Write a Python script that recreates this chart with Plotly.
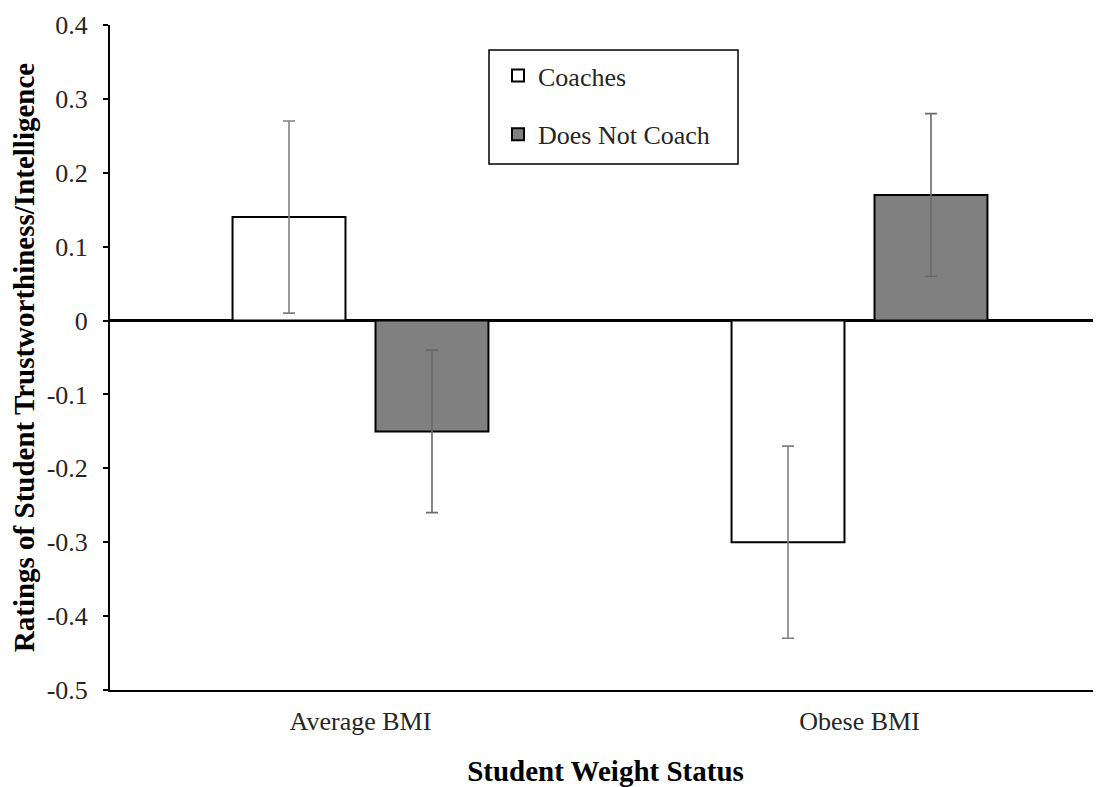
import plotly.graph_objects as go

categories = ["Average BMI", "Obese BMI"]
cat_pos = [0, 1]
coaches = [0.14, -0.30]
coaches_err = [0.13, 0.13]
not_coach = [-0.15, 0.17]
not_coach_err = [0.11, 0.11]
y_ticks = [0.4, 0.3, 0.2, 0.1, 0, -0.1, -0.2, -0.3, -0.4, -0.5]
y_ticktext = ["0.4", "0.3", "0.2", "0.1", "0", "-0.1", "-0.2", "-0.3", "-0.4", "-0.5"]

FONT = "Liberation Serif"
TXT = "#262626"

fig = go.Figure()
fig.add_trace(go.Bar(
    x=cat_pos, y=coaches, name="Coaches", legendgroup="a",
    marker=dict(color="white", line=dict(color="black", width=2)),
    error_y=dict(type="data", array=coaches_err, visible=True,
                 color="#808080", thickness=1.6, width=6),
))
fig.add_trace(go.Bar(
    x=cat_pos, y=not_coach, name="Does Not Coach", legendgroup="b",
    marker=dict(color="#808080", line=dict(color="black", width=2)),
    error_y=dict(type="data", array=not_coach_err, visible=True,
                 color="#6a6a6a", thickness=1.6, width=6),
))

# legend frame (page px 489..738 x 50..164; plot area 110..1101 x 25..690)
fig.add_shape(type="rect", xref="paper", yref="paper",
              x0=(489 - 110) / 991, x1=(738 - 110) / 991,
              y0=(690 - 164) / 665, y1=(690 - 50) / 665,
              line=dict(color="black", width=1.5), fillcolor="rgba(0,0,0,0)",
              layer="above")

fig.update_layout(
    width=1093, height=779,
    margin=dict(l=102, r=0, t=17, b=97),
    paper_bgcolor="white", plot_bgcolor="white",
    barmode="group", bargap=0.427, bargroupgap=0.21,
    font=dict(family=FONT, size=26, color=TXT),
    showlegend=True,
    legend=dict(
        x=(498 - 110) / 991, y=(690 - 52) / 665, xanchor="left", yanchor="top",
        borderwidth=0,
        font=dict(family=FONT, size=26, color=TXT),
        traceorder="grouped", tracegroupgap=22,
        bgcolor="rgba(0,0,0,0)",
    ),
    xaxis=dict(
        range=[-0.502, 1.484], tickvals=cat_pos, ticktext=categories,
        showline=True, linecolor="black", linewidth=2,
        ticks="", showgrid=False, zeroline=False,
        tickfont=dict(family=FONT, size=26, color=TXT),
        ticklabelstandoff=7,
        title=dict(text="<b>Student Weight Status</b>",
                   font=dict(family=FONT, size=29, color="black"), standoff=25),
    ),
    yaxis=dict(
        range=[-0.5, 0.4], tickvals=y_ticks, ticktext=y_ticktext,
        showline=True, linecolor="black", linewidth=2,
        ticks="outside", ticklen=5, tickcolor="black", tickwidth=1.5,
        showgrid=False,
        zeroline=True, zerolinecolor="black", zerolinewidth=3,
        tickfont=dict(family=FONT, size=26, color=TXT),
        ticklabelstandoff=10,
        title=dict(text="<b>Ratings of Student Trustworthiness/Intelligence</b>",
                   font=dict(family=FONT, size=29, color="black"), standoff=8),
    ),
)

fig.write_html("out.html")
